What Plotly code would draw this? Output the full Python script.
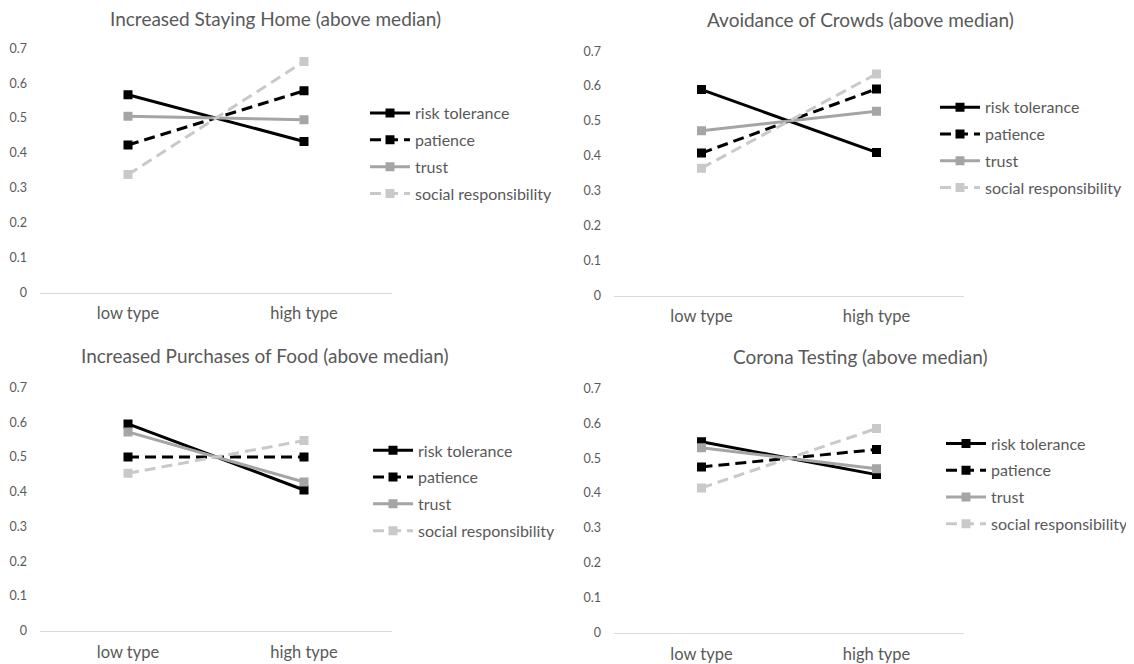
import plotly.graph_objects as go

# categories and series (share above median)
categories = ['low type', 'high type']
series_names = ['risk tolerance', 'patience', 'trust', 'social responsibility']

titles = ['Increased Staying Home (above median)',
          'Avoidance of Crowds (above median)',
          'Increased Purchases of Food (above median)',
          'Corona Testing (above median)']

staying_home = [[0.567, 0.433], [0.423, 0.578], [0.505, 0.495], [0.338, 0.662]]
crowds = [[0.590, 0.410], [0.408, 0.592], [0.472, 0.528], [0.365, 0.635]]
food = [[0.595, 0.405], [0.500, 0.500], [0.572, 0.428], [0.453, 0.547]]
testing = [[0.547, 0.453], [0.475, 0.525], [0.530, 0.470], [0.415, 0.585]]

panels = [staying_home, crowds, food, testing]

y_ticks = [0, 0.1, 0.2, 0.3, 0.4, 0.5, 0.6, 0.7]
y_labels = ['0', '0.1', '0.2', '0.3', '0.4', '0.5', '0.6', '0.7']

# styles
colors = ['#000000', '#000000', '#A5A5A5', '#C9C9C9']
dashes = ['solid', '11px,6px', 'solid', '11px,6px']
W, H = 1134, 664
font = 'Lato, Open Sans, sans-serif'
txt = '#595959'

# pixel boxes of each plot area: (left, right, top(0.7), bottom(0))
# (page body adds a margin, so positions are shifted a little up/left)
boxes = [(32, 384, 33, 283), (606, 956, 36, 286),
         (32, 384, 380, 629), (606, 956, 381, 631)]
title_pos = [(267, 3), (852, 4), (257, 347), (852, 348)]
legend_pos = [(357, 82), (927, 76), (360, 427), (933, 420)]

fig = go.Figure()
layout = dict(width=W, height=H, margin=dict(l=0, r=0, t=0, b=0),
              paper_bgcolor='white', plot_bgcolor='white',
              font=dict(family=font, color=txt), annotations=[])

for i, data in enumerate(panels):
    xa = 'x' if i == 0 else 'x%d' % (i + 1)
    ya = 'y' if i == 0 else 'y%d' % (i + 1)
    lg = 'legend' if i == 0 else 'legend%d' % (i + 1)
    for j, name in enumerate(series_names):
        fig.add_trace(go.Scatter(
            x=categories, y=data[j], name=name, mode='lines+markers',
            xaxis=xa, yaxis=ya, legend=lg, legendgroup='g%d_%d' % (i, j),
            line=dict(color=colors[j], width=3, dash=dashes[j]),
            marker=dict(symbol='square', size=9, color=colors[j])))

    l, r, t, b = boxes[i]
    xkey = 'xaxis' if i == 0 else 'xaxis%d' % (i + 1)
    ykey = 'yaxis' if i == 0 else 'yaxis%d' % (i + 1)
    layout[xkey] = dict(domain=[l / W, r / W], anchor=ya, type='category',
                        range=[-0.5, 1.5], showline=True, linecolor='#D9D9D9',
                        linewidth=1, showgrid=False, ticks='',
                        ticklabelstandoff=6,
                        tickfont=dict(size=16.5, color=txt))
    layout[ykey] = dict(domain=[1 - b / H, 1 - t / H], anchor=xa,
                        range=[0, 0.7], tickvals=y_ticks, ticktext=y_labels,
                        showgrid=False, zeroline=False, showline=False,
                        ticks='', ticklabelstandoff=12,
                        tickfont=dict(size=12.5, color=txt))
    tx, ty = title_pos[i]
    layout['annotations'].append(dict(
        text=titles[i], x=tx / W, y=1 - ty / H, xref='paper', yref='paper',
        xanchor='center', yanchor='middle', showarrow=False,
        font=dict(size=19, color=txt, family=font)))
    lx, ly = legend_pos[i]
    layout[lg] = dict(x=lx / W, y=1 - ly / H, xanchor='left', yanchor='top',
                      bgcolor='rgba(0,0,0,0)', tracegroupgap=3,
                      itemwidth=40, font=dict(size=16, color=txt))

fig.update_layout(**layout)
fig.write_html('out.html')
